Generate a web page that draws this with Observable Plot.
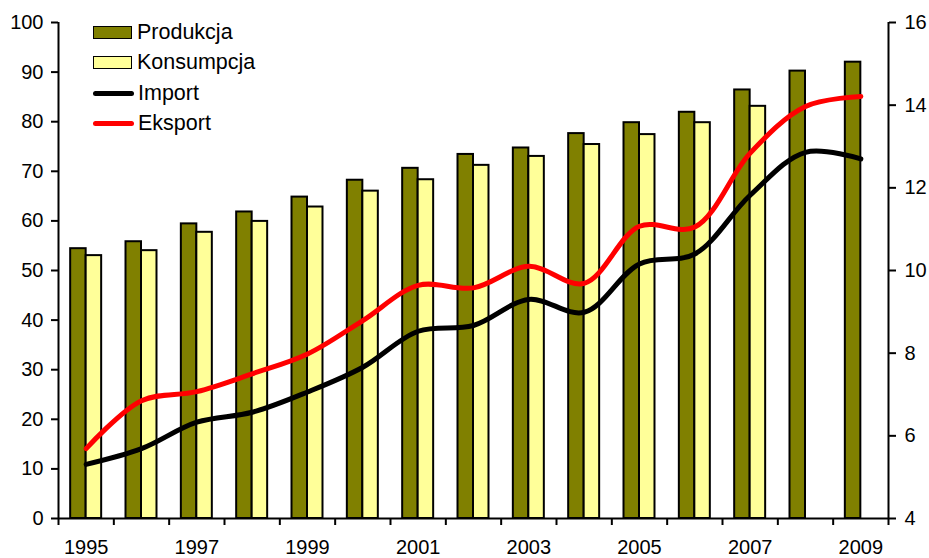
<!DOCTYPE html>
<html>
<head>
<meta charset="utf-8">
<script src="https://cdn.jsdelivr.net/npm/d3@7"></script>
<script src="https://cdn.jsdelivr.net/npm/@observablehq/plot@0.6"></script>
<style>
  body { margin: 0; background: #fff; }
  #wrap { position: relative; width: 929px; height: 558px; font-family: "Liberation Sans", Arial, sans-serif; }
  #legend { position: absolute; left: 93px; top: 17px; font-size: 21.5px; color: #000; }
  .item { display: flex; align-items: center; height: 30.5px; }
  .sw { width: 37px; height: 11px; border: 1.5px solid #000; margin-right: 5px; }
  .ln { width: 41px; height: 5px; border-radius: 3px; margin-right: 4px; }
</style>
</head>
<body>
<div id="wrap">
  <div id="chart"></div>
  <div id="legend"></div>
</div>
<script>
const years = [1995, 1996, 1997, 1998, 1999, 2000, 2001, 2002, 2003, 2004, 2005, 2006, 2007, 2008, 2009];
const produkcja = [54.4, 55.8, 59.4, 61.8, 64.8, 68.2, 70.6, 73.4, 74.7, 77.6, 79.8, 81.9, 86.4, 90.2, 92.0];
const konsumpcja = [53.0, 54.0, 57.7, 59.9, 62.8, 66.0, 68.3, 71.2, 73.0, 75.4, 77.4, 79.8, 83.1, null, null];
const importVals = [5.31, 5.69, 6.33, 6.57, 7.06, 7.66, 8.53, 8.67, 9.30, 8.99, 10.16, 10.40, 11.82, 12.86, 12.70];
const eksportVals = [5.69, 6.85, 7.07, 7.50, 7.98, 8.79, 9.64, 9.58, 10.10, 9.69, 11.07, 11.05, 12.84, 13.97, 14.21];
const leftTicks = [0, 10, 20, 30, 40, 50, 60, 70, 80, 90, 100];
const rightTicks = [4, 6, 8, 10, 12, 14, 16];
const xLabels = [1995, 1997, 1999, 2001, 2003, 2005, 2007, 2009];
const seriesNames = ["Produkcja", "Konsumpcja", "Import", "Eksport"];
const colors = { prod: "#808000", kons: "#FFFF99", imp: "#000000", eks: "#FF0000" };

// right axis (4..16) mapped onto left scale (0..100)
const rMin = 4, rMax = 16;
const toLeft = v => (v - rMin) / (rMax - rMin) * 100;
const fromLeft = v => Math.round(rMin + v / 100 * (rMax - rMin));

const data = years.map((year, i) => ({
  year, prod: produkcja[i], kons: konsumpcja[i], imp: importVals[i], eks: eksportVals[i]
}));
const barW = 0.28;
const boundaries = years.map(y => y - 0.5).concat([years[years.length - 1] + 0.5]);

const chart = Plot.plot({
  width: 929,
  height: 558,
  marginLeft: 58,
  marginRight: 41,
  marginTop: 22,
  marginBottom: 40,
  style: { fontFamily: "'Liberation Sans', Arial, sans-serif", fontSize: "20px", color: "#000", background: "#fff", overflow: "visible" },
  x: { type: "linear", domain: [years[0] - 0.5, years[years.length - 1] + 0.5] },
  y: { domain: [0, 100] },
  marks: [
    Plot.rect(data, { x1: d => d.year - barW, x2: d => d.year, y1: 0, y2: "prod", fill: colors.prod, stroke: "#000", strokeWidth: 2 }),
    Plot.rect(data.filter(d => d.kons != null), { x1: d => d.year, x2: d => d.year + barW, y1: 0, y2: "kons", fill: colors.kons, stroke: "#000", strokeWidth: 2 }),
    Plot.line(data, { x: "year", y: d => toLeft(d.imp), stroke: colors.imp, strokeWidth: 5, curve: "catmull-rom", strokeLinecap: "round" }),
    Plot.line(data, { x: "year", y: d => toLeft(d.eks), stroke: colors.eks, strokeWidth: 5, curve: "catmull-rom", strokeLinecap: "round" }),
    Plot.ruleX([years[0] - 0.5], { stroke: "#000", strokeWidth: 2 }),
    Plot.ruleX([years[years.length - 1] + 0.5], { stroke: "#000", strokeWidth: 2 }),
    Plot.ruleY([0], { stroke: "#000", strokeWidth: 2 }),
    Plot.axisY({ anchor: "left", ticks: leftTicks, tickSize: 7, tickPadding: 8, strokeWidth: 2, fontSize: 20, tickFormat: d => String(d), label: null }),
    Plot.axisY({ anchor: "right", ticks: rightTicks.map(toLeft), tickSize: 7, tickPadding: 9, strokeWidth: 2, fontSize: 20, tickFormat: d => String(fromLeft(d)), label: null }),
    Plot.axisX({ ticks: boundaries, tickSize: 7, strokeWidth: 2, tickFormat: () => "", label: null }),
    Plot.axisX({ ticks: xLabels, tickSize: 0, tickPadding: 21, fontSize: 20, tickFormat: d => String(d), label: null })
  ]
});
document.getElementById("chart").appendChild(chart);

const legend = document.getElementById("legend");
const legendStyles = [
  { cls: "sw", color: colors.prod },
  { cls: "sw", color: colors.kons },
  { cls: "ln", color: colors.imp },
  { cls: "ln", color: colors.eks }
];
seriesNames.forEach((name, i) => {
  const item = document.createElement("div");
  item.className = "item";
  const sw = document.createElement("span");
  sw.className = legendStyles[i].cls;
  sw.style.background = legendStyles[i].color;
  const t = document.createElement("span");
  t.textContent = name;
  item.appendChild(sw);
  item.appendChild(t);
  legend.appendChild(item);
});
</script>
</body>
</html>
